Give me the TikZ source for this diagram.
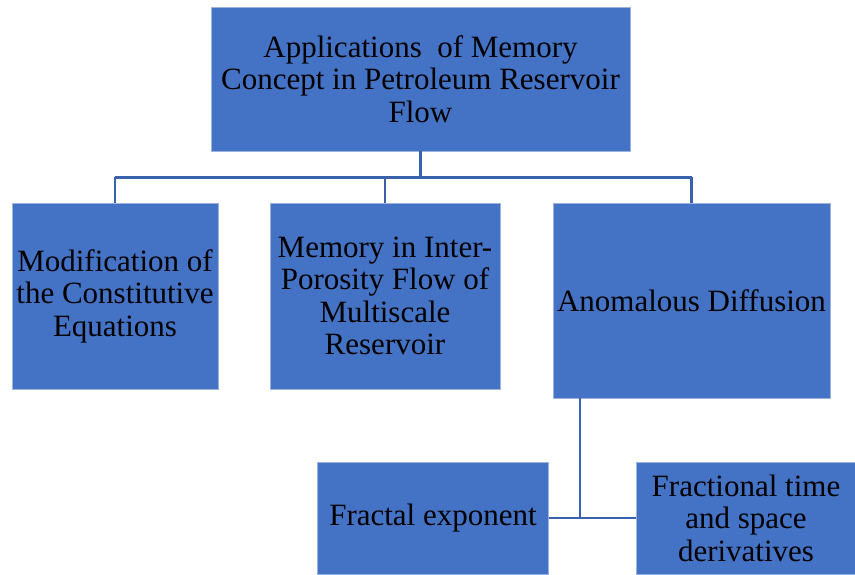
\documentclass[tikz,border=0pt]{standalone}
\usepackage{fontspec}
\setmainfont{Liberation Serif}
\definecolor{boxfill}{HTML}{4472C4}
\definecolor{boxedge}{HTML}{9DB3DD}
\definecolor{connc}{HTML}{3A62AC}
\begin{document}
\begin{tikzpicture}[x=1pt,y=-1pt,
  box/.style={rectangle, fill=boxfill, draw=boxedge, line width=0.6pt, inner sep=0pt, align=center,
    font=\fontsize{31}{32.5}\selectfont, text=black},
  conn/.style={draw=connc, line width=2.8pt}]
\useasboundingbox (0,0) rectangle (855,574);
\node[box, minimum width=419, minimum height=144] (top) at (420.5,79) {Applications\ \ of Memory\\Concept in Petroleum Reservoir\\Flow};
\node[box, minimum width=206, minimum height=186] (mod) at (115,296) {Modification of\\the Constitutive\\Equations};
\node[box, minimum width=230, minimum height=186] (mem) at (385,296) {Memory in Inter-\\Porosity Flow of\\Multiscale\\Reservoir};
\node[box, minimum width=277, minimum height=195] (ano) at (691.5,300.5) {Anomalous Diffusion};
\node[box, minimum width=231, minimum height=112] (fra) at (433,518) {Fractal exponent};
\node[box, minimum width=220, minimum height=112] (frt) at (746,518) {Fractional time\\and space\\derivatives};
\draw[conn] (top.south) -- ++(0,26) coordinate (h);
\draw[conn] (mod.north |- h) -- (ano.north |- h);
\draw[conn] (mod.north |- h) -- (mod.north);
\draw[conn] (mem.north |- h) -- (mem.north);
\draw[conn] (ano.north |- h) -- (ano.north);
\coordinate (b) at (580,518);
\draw[conn] (ano.south -| b) -- (b);
\draw[conn] (fra.east) -- (frt.west);
\end{tikzpicture}
\end{document}
